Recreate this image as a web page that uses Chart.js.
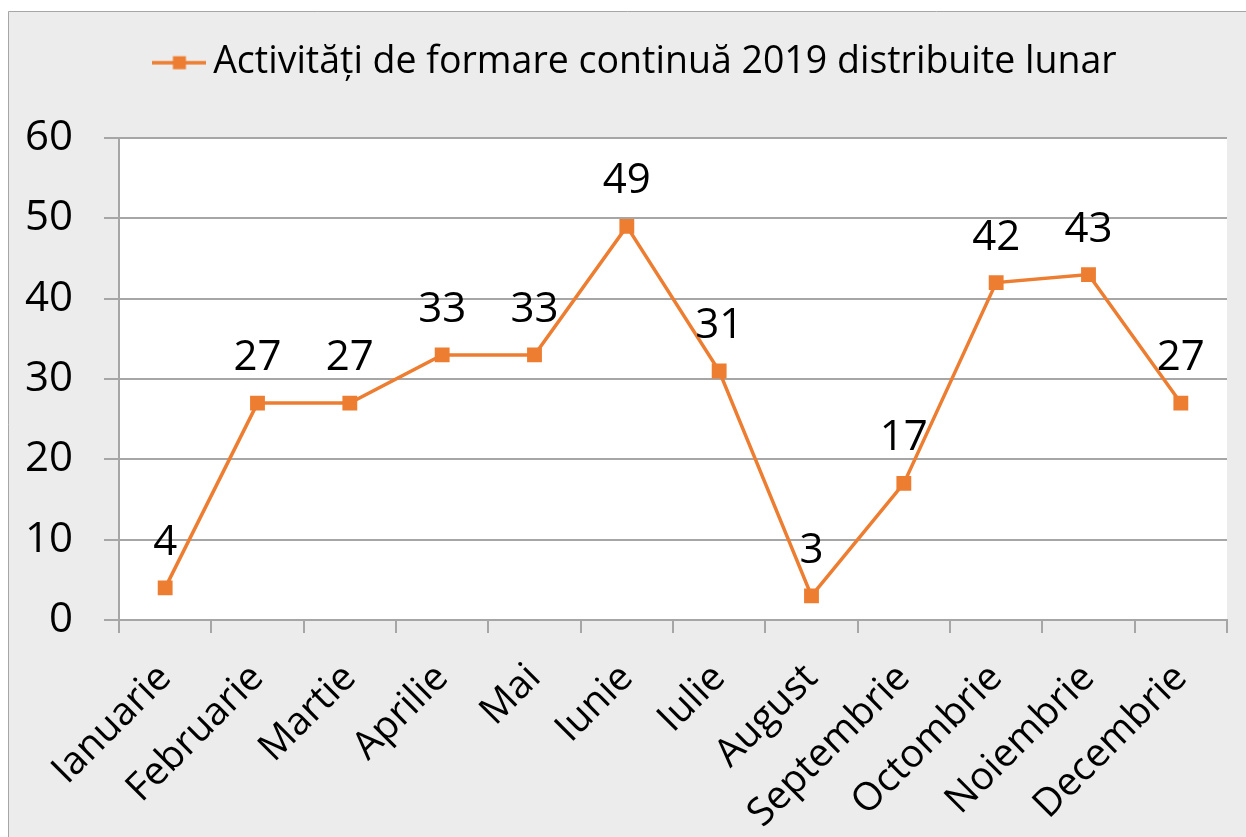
<!DOCTYPE html>
<html>
<head>
<meta charset="utf-8">
<script src="https://cdn.jsdelivr.net/npm/chart.js@4/dist/chart.umd.min.js"></script>
<style>
html,body{margin:0;padding:0;background:#fff;}
#wrap{width:1246px;height:837px;position:relative;}
</style>
</head>
<body>
<div id="wrap"><canvas id="c" width="1246" height="837"></canvas></div>
<script>
const months = ["Ianuarie","Februarie","Martie","Aprilie","Mai","Iunie","Iulie","August","Septembrie","Octombrie","Noiembrie","Decembrie"];
const activities = [4,27,27,33,33,49,31,3,17,42,43,27];
const seriesName = "Activități de formare continuă 2019 distribuite lunar";
const yTicks = [0,10,20,30,40,50,60];

const ORANGE = '#ed7d31';
const FONT = "'Open Sans', sans-serif";
const LEGEND_DX = 20;

// legend marker: line + square
const marker = document.createElement('canvas');
marker.width = 54; marker.height = 16;
(function(){
  const g = marker.getContext('2d');
  g.strokeStyle = ORANGE; g.lineWidth = 3.5;
  g.beginPath(); g.moveTo(0,8); g.lineTo(54,8); g.stroke();
  g.fillStyle = ORANGE; g.fillRect(20.5,1.5,13,13);
})();

const framePlugin = {
  id: 'frame',
  beforeUpdate(chart){
    const lg = chart.legend;
    if (lg && !lg._patched){
      const origFit = lg.fit;
      lg.fit = function(){ origFit.call(this); this.height = 138; };
      const origDraw = lg.draw;
      lg.draw = function(){
        const c = this.ctx; c.save(); c.translate(LEGEND_DX, 0);
        origDraw.call(this); c.restore();
      };
      lg._patched = true;
    }
  },
  beforeDraw(chart){
    const ctx = chart.ctx;
    ctx.save();
    ctx.fillStyle = '#ffffff';
    ctx.fillRect(0,0,chart.width,chart.height);
    ctx.fillStyle = '#ececec';
    ctx.fillRect(8,11,chart.width-8,chart.height-11);
    ctx.strokeStyle = '#a6a6a6';
    ctx.lineWidth = 1;
    ctx.beginPath();
    ctx.moveTo(8.5,chart.height); ctx.lineTo(8.5,11.5); ctx.lineTo(chart.width,11.5);
    ctx.stroke();
    const a = chart.chartArea;
    ctx.fillStyle = '#ffffff';
    ctx.fillRect(a.left,a.top,a.right-a.left,a.bottom-a.top);
    ctx.restore();
  }
};

const labelPlugin = {
  id: 'valueLabels',
  afterDatasetsDraw(chart){
    const ctx = chart.ctx;
    ctx.save();
    ctx.font = "42px " + FONT;
    ctx.fillStyle = '#000';
    ctx.textAlign = 'center';
    ctx.textBaseline = 'middle';
    chart.data.datasets.forEach((ds,i)=>{
      const meta = chart.getDatasetMeta(i);
      meta.data.forEach((pt,j)=>{
        ctx.fillText(String(ds.data[j]), pt.x, pt.y - 45);
      });
    });
    ctx.restore();
  }
};

const PADL = 14;
new Chart(document.getElementById('c'), {
  type: 'line',
  data: {
    labels: months,
    datasets: [{
      label: seriesName,
      data: activities,
      borderColor: ORANGE,
      backgroundColor: ORANGE,
      borderWidth: 3.5,
      pointStyle: 'rect',
      pointRadius: 10.5,
      pointBorderWidth: 0,
      tension: 0,
      fill: false
    }]
  },
  options: {
    responsive: false,
    animation: false,
    devicePixelRatio: 1,
    layout: { padding: { left: PADL, right: 19, top: 0, bottom: 0 } },
    plugins: {
      tooltip: { enabled: false },
      legend: {
        position: 'top',
        labels: {
          usePointStyle: true,
          pointStyle: marker,
          pointStyleWidth: 30,
          boxHeight: 16,
          padding: 44,
          color: '#000',
          font: { family: FONT, size: 37.5 }
        }
      }
    },
    scales: {
      x: {
        offset: true,
        grid: { display: true, drawOnChartArea: false, offset: true, color: '#a6a6a6', lineWidth: 2, tickLength: 13 },
        border: { display: true, color: '#a6a6a6', width: 2 },
        ticks: { color: '#000', font: { family: FONT, size: 39 }, maxRotation: 45, minRotation: 45, padding: 22, autoSkip: false },
        afterFit(s){ s.height = 217; }
      },
      y: {
        min: 0, max: 60,
        afterBuildTicks(s){ s.ticks = yTicks.map(v=>({value:v})); },
        grid: { color: '#a6a6a6', lineWidth: 2, tickLength: 15 },
        border: { display: true, color: '#a6a6a6', width: 2 },
        ticks: { color: '#000', font: { family: FONT, size: 42 }, padding: 31 },
        afterFit(s){ s.width = 119 - PADL; }
      }
    }
  },
  plugins: [framePlugin, labelPlugin]
});
</script>
</body>
</html>
